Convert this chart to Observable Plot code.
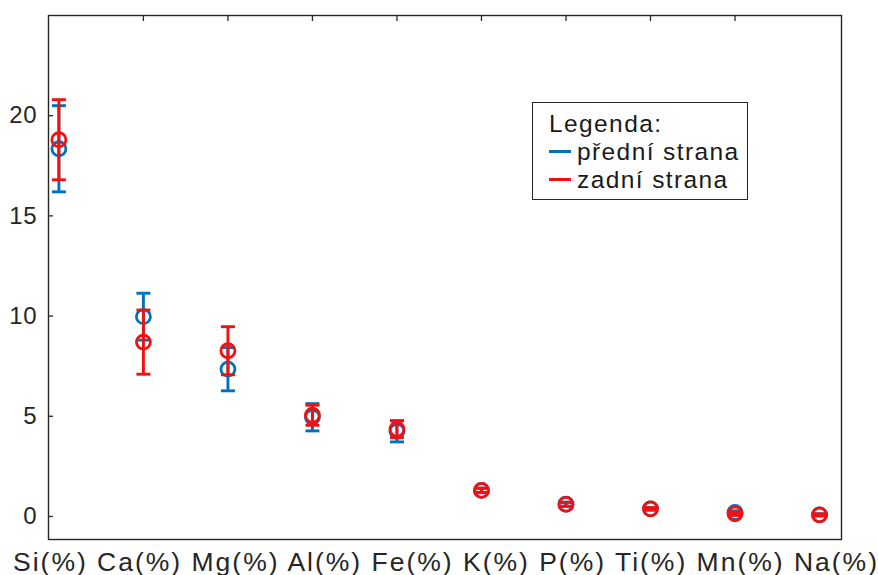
<!DOCTYPE html>
<html><head><meta charset="utf-8">
<script src="https://cdn.jsdelivr.net/npm/d3@7"></script>
<script src="https://cdn.jsdelivr.net/npm/@observablehq/plot@0.6"></script>
<style>
body{margin:0;background:#fff;}
#wrap{position:relative;width:878px;height:575px;font-family:"Liberation Sans",Arial,sans-serif;}
#legend{position:absolute;left:532px;top:102px;width:214px;height:96px;border:1.3px solid #262626;background:#fff;color:#1a1a1a;font-size:24.5px;letter-spacing:1.4px;}
.row{position:absolute;left:16px;height:28px;line-height:28px;white-space:nowrap;}
.sw{display:inline-block;width:22px;height:3px;margin-right:6px;vertical-align:middle;position:relative;top:-2px;}
</style></head><body><div id="wrap"></div>
<script>
const categories = ["Si(%)", "Ca(%)", "Mg(%)", "Al(%)", "Fe(%)", "K(%)", "P(%)", "Ti(%)", "Mn(%)", "Na(%)"];
const frontMean = [18.35, 9.97, 7.35, 4.95, 4.25, 1.30, 0.62, 0.38, 0.20, 0.08];
const frontErr  = [2.15, 1.17, 1.08, 0.68, 0.53, 0.12, 0.10, 0.06, 0.08, 0.05];
const backMean  = [18.80, 8.70, 8.27, 5.05, 4.35, 1.30, 0.60, 0.38, 0.13, 0.08];
const backErr   = [2.00, 1.60, 1.20, 0.50, 0.42, 0.10, 0.10, 0.06, 0.08, 0.05];
const yTicks = [0, 5, 10, 15, 20];
const seriesNames = ["přední strana", "zadní strana"];
const legendTitle = "Legenda:";

const BLUE = "#0072BD", RED = "#F21010";
const rowsOf = (means, errs) => means.map((m, k) => ({i: k + 1, mean: m, err: errs[k]}));
const front = rowsOf(frontMean, frontErr);
const back = rowsOf(backMean, backErr);
const cap = {draw(ctx) { ctx.moveTo(-7, 0); ctx.lineTo(7, 0); }};

function seriesMarks(rows, color) {
  return [
    Plot.ruleX(rows, {x: "i", y1: d => d.mean - d.err, y2: d => d.mean + d.err, stroke: color, strokeWidth: 2.9}),
    Plot.dot(rows, {x: "i", y: d => d.mean + d.err, symbol: cap, stroke: color, strokeWidth: 2.9, fill: "none"}),
    Plot.dot(rows, {x: "i", y: d => d.mean - d.err, symbol: cap, stroke: color, strokeWidth: 2.9, fill: "none"}),
    Plot.dot(rows, {x: "i", y: "mean", r: 7, stroke: color, strokeWidth: 2.8, fill: "none"})
  ];
}

const plot = Plot.plot({
  width: 878, height: 575,
  marginLeft: 48, marginRight: 37, marginTop: 15, marginBottom: 36,
  style: {fontFamily: "Liberation Sans, Arial, sans-serif", color: "#262626", background: "#fff"},
  x: {type: "linear", domain: [0.877, 10.26]},
  y: {domain: [-1.15, 25]},
  marks: [
    Plot.axisY({ticks: yTicks, tickSize: -5, tickPadding: 16, fontSize: 24, label: null, strokeWidth: 1.3}),
    Plot.axisX({anchor: "top", ticks: d3.range(2, 10), tickSize: -5, tickFormat: () => "", label: null, strokeWidth: 1.3}),
    Plot.axisX({anchor: "bottom", ticks: [], label: categories.join(" "), labelAnchor: "center", labelArrow: "none", labelOffset: 31, fontSize: 26.5}),
    ...seriesMarks(front, BLUE),
    ...seriesMarks(back, RED),
    Plot.frame({stroke: "#262626", strokeWidth: 1.4})
  ]
});
const wrap = document.getElementById("wrap");
wrap.appendChild(plot);
d3.select(plot).selectAll('g[aria-label="x-axis label"] text')
  .attr("textLength", 864).attr("lengthAdjust", "spacing");
d3.select(plot).selectAll('g[aria-label="y-axis tick label"] text').style("letter-spacing", "0.8px");

const leg = document.createElement("div");
leg.id = "legend";
leg.innerHTML = `<div class="row" style="top:7px">${legendTitle}</div>` +
  `<div class="row" style="top:35px"><span class="sw" style="background:${BLUE}"></span>${seriesNames[0]}</div>` +
  `<div class="row" style="top:63px"><span class="sw" style="background:${RED}"></span>${seriesNames[1]}</div>`;
wrap.appendChild(leg);
</script></body></html>
